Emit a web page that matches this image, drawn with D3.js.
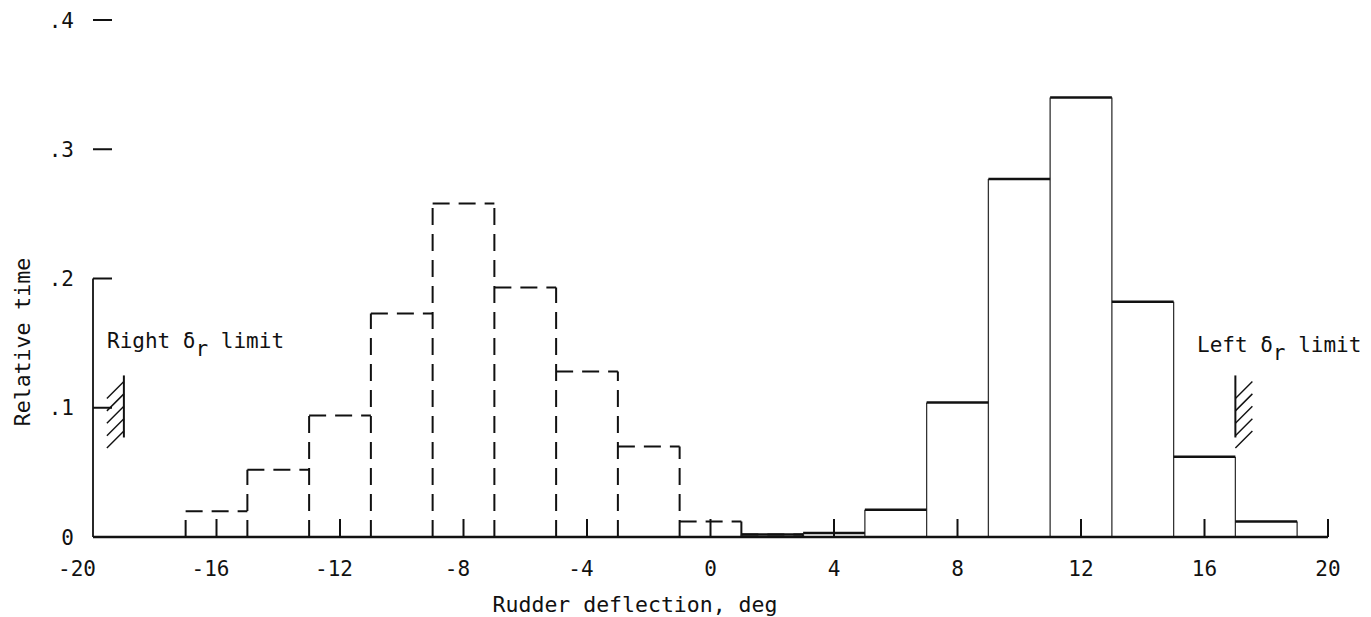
<!DOCTYPE html>
<html>
<head>
<meta charset="utf-8">
<script src="https://cdn.jsdelivr.net/npm/d3@7"></script>
<style>
  html, body { margin: 0; padding: 0; background: #fff; }
  svg { display: block; }
  text { font-family: "DejaVu Sans Mono", monospace; fill: #111; }
</style>
</head>
<body>
<svg id="chart" width="1371" height="617"></svg>
<script>
// ---- data ----
const xTickValues = [-20, -16, -12, -8, -4, 0, 4, 8, 12, 16, 20];
const xTickLabels = ["-20", "-16", "-12", "-8", "-4", "0", "4", "8", "12", "16", "20"];
const yTickValues = [0, 0.1, 0.2, 0.3, 0.4];
const yTickLabels = ["0", ".1", ".2", ".3", ".4"];
const binWidth = 2;
// dashed histogram (bin centers, relative time)
const dashedCenters = [-16, -14, -12, -10, -8, -6, -4, -2, 0, 2];
const dashedValues  = [0.020, 0.052, 0.094, 0.173, 0.258, 0.193, 0.128, 0.070, 0.012, 0.002];
// solid histogram
const solidCenters = [2, 4, 6, 8, 10, 12, 14, 16, 18];
const solidValues  = [0.002, 0.003, 0.021, 0.104, 0.277, 0.340, 0.182, 0.062, 0.012];
// rudder limits
const rightLimit = -19, leftLimit = 17;
const limitRange = [0.077, 0.125];

// ---- scales ----
const svg = d3.select("#chart");
const x = d3.scaleLinear().domain([-20, 20]).range([93, 1328]);
const y = d3.scaleLinear().domain([0, 0.4]).range([537, 20]);
const y0 = y(0);

// ---- histogram drawing ----
function bins(centers, values) {
  return centers.map((c, i) => ({ x0: c - binWidth / 2, x1: c + binWidth / 2, v: values[i] }));
}
function edges(b) {
  const m = new Map();
  b.forEach(d => {
    m.set(d.x0, Math.max(m.get(d.x0) || 0, d.v));
    m.set(d.x1, Math.max(m.get(d.x1) || 0, d.v));
  });
  return Array.from(m, ([e, v]) => ({ e, v }));
}

const dashed = bins(dashedCenters, dashedValues);
const solid = bins(solidCenters, solidValues);

const gD = svg.append("g").attr("fill", "none").attr("stroke", "#111")
  .attr("stroke-width", 2).attr("stroke-dasharray", "17,9");
gD.selectAll("line.v").data(edges(dashed)).join("line").attr("class", "v")
  .attr("x1", d => x(d.e)).attr("x2", d => x(d.e))
  .attr("y1", y0).attr("y2", d => y(d.v));
gD.selectAll("line.h").data(dashed).join("line").attr("class", "h")
  .attr("x1", d => x(d.x0)).attr("x2", d => x(d.x1))
  .attr("y1", d => y(d.v)).attr("y2", d => y(d.v));

const gS = svg.append("g").attr("fill", "none").attr("stroke", "#111");
gS.selectAll("line.v").data(edges(solid)).join("line").attr("class", "v")
  .attr("stroke-width", 1.3).attr("stroke", "#333")
  .attr("x1", d => x(d.e)).attr("x2", d => x(d.e))
  .attr("y1", y0).attr("y2", d => y(d.v));
gS.selectAll("line.h").data(solid).join("line").attr("class", "h")
  .attr("stroke-width", 2.5)
  .attr("x1", d => x(d.x0)).attr("x2", d => x(d.x1))
  .attr("y1", d => y(d.v)).attr("y2", d => y(d.v));

// ---- axes ----
const ax = svg.append("g").attr("stroke", "#111");
ax.append("line").attr("x1", x(-20)).attr("x2", x(20)).attr("y1", y0).attr("y2", y0).attr("stroke-width", 2.5);
ax.append("line").attr("x1", x(-20)).attr("x2", x(-20)).attr("y1", y0).attr("y2", y(0.2)).attr("stroke-width", 1.8);
// x ticks (upward)
ax.selectAll("line.xt").data(xTickValues.slice(1)).join("line").attr("class", "xt")
  .attr("stroke-width", 2)
  .attr("x1", d => x(d)).attr("x2", d => x(d))
  .attr("y1", y0).attr("y2", y0 - 18);
// y ticks (rightward)
ax.selectAll("line.yt").data(yTickValues.slice(1)).join("line").attr("class", "yt")
  .attr("stroke-width", 2)
  .attr("x1", x(-20)).attr("x2", x(-20) + 19)
  .attr("y1", d => y(d)).attr("y2", d => y(d));

// tick labels
const xLabelShift = { "-20": -16 };
svg.append("g").selectAll("text").data(xTickValues).join("text")
  .attr("x", (d, i) => x(d) + (xLabelShift[xTickLabels[i]] !== undefined ? xLabelShift[xTickLabels[i]] : (d < 0 ? -6 : 0)))
  .attr("y", 576)
  .attr("text-anchor", "middle")
  .attr("font-size", 21)
  .text((d, i) => xTickLabels[i]);

svg.append("g").selectAll("text").data(yTickValues).join("text")
  .attr("x", 74)
  .attr("y", d => y(d))
  .attr("dy", "0.36em")
  .attr("text-anchor", "end")
  .attr("font-size", 21)
  .text((d, i) => yTickLabels[i]);

// axis titles
svg.append("text").attr("x", 635).attr("y", 612).attr("text-anchor", "middle")
  .attr("font-size", 21.5).text("Rudder deflection, deg");
svg.append("text").attr("transform", "translate(30,342) rotate(-90)")
  .attr("text-anchor", "middle").attr("font-size", 21.5).text("Relative time");

// ---- limit markers ----
function hatch(xv, side) {
  const g = svg.append("g").attr("stroke", "#111").attr("fill", "none");
  const xp = x(xv), yTop = y(limitRange[1]), yBot = y(limitRange[0]);
  g.append("line").attr("x1", xp).attr("x2", xp).attr("y1", yTop).attr("y2", yBot).attr("stroke-width", 2);
  const n = 5, step = (yBot - yTop) / n, w = 17;
  d3.range(n).forEach(i => {
    const yy = yTop + 6 + i * step;
    if (side < 0) {
      g.append("line").attr("x1", xp).attr("y1", yy).attr("x2", xp - w).attr("y2", yy + w).attr("stroke-width", 1.5);
    } else {
      g.append("line").attr("x1", xp).attr("y1", yy + w).attr("x2", xp + w).attr("y2", yy).attr("stroke-width", 1.5);
    }
  });
}
hatch(rightLimit, -1);
hatch(leftLimit, 1);

function limitLabel(word, px, py) {
  const t = svg.append("text").attr("x", px).attr("y", py).attr("font-size", 21);
  t.append("tspan").text(word + " \u03B4");
  t.append("tspan").attr("dy", 8).text("r");
  t.append("tspan").attr("dy", -8).text(" limit");
}
limitLabel("Right", 107, 348);
limitLabel("Left", 1197, 352);
</script>
</body>
</html>
